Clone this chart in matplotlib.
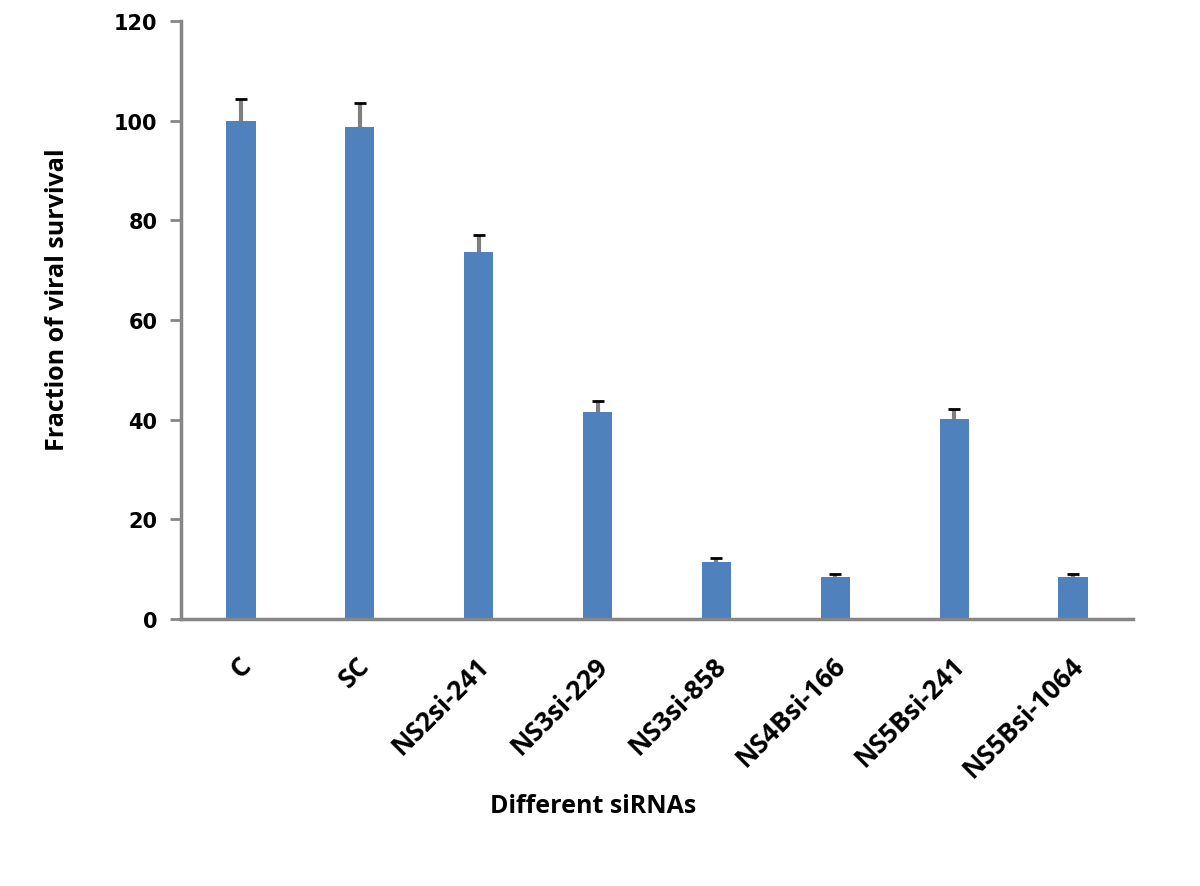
import numpy as np
import matplotlib
matplotlib.use('Agg')
import matplotlib.pyplot as plt
import matplotlib.transforms as mtransforms

labels = ['C', 'SC', 'NS2si-241', 'NS3si-229', 'NS3si-858', 'NS4Bsi-166',
          'NS5Bsi-241', 'NS5Bsi-1064']
values = [100, 98.8, 73.7, 41.6, 11.4, 8.4, 40.2, 8.4]
errors = [4.4, 4.8, 3.4, 2.2, 0.8, 0.6, 2.0, 0.6]

fig = plt.figure(figsize=(12, 8.87), dpi=100)
ax = fig.add_axes([0.151, 0.301, 0.793, 0.674])

x = np.arange(len(labels))
ax.bar(x, values, width=0.25, color='#4F81BD', zorder=2)
eb = ax.errorbar(x, values, yerr=[np.zeros(len(errors)), errors], fmt='none',
                 ecolor='#7F7F7F', elinewidth=3, capsize=4, capthick=2, zorder=3)
# only the upper cap, drawn in black
eb[1][0].set_visible(False)
eb[1][1].set_markeredgecolor('black')

ax.set_xlim(-0.5, len(labels) - 0.5)
ax.set_ylim(0, 120)
ax.set_yticks(range(0, 121, 20))
for s in ['top', 'right']:
    ax.spines[s].set_visible(False)
for s in ['left', 'bottom']:
    ax.spines[s].set_color('#868686')
    ax.spines[s].set_linewidth(2.5)
ax.tick_params(axis='y', length=8, width=2, color='#868686', pad=9,
               labelsize=15)
ax.tick_params(axis='x', length=0, pad=30)
for t in ax.get_yticklabels():
    t.set_fontfamily('DejaVu Sans')
    t.set_fontweight('bold')

ax.set_xticks(x)
ax.set_xticklabels(labels, rotation=45, ha='right', va='center',
                   rotation_mode='anchor', fontsize=19, fontweight='bold',
                   fontfamily='Open Sans')
shift = mtransforms.ScaledTranslation(6 / 100, 0, fig.dpi_scale_trans)
for t in ax.get_xticklabels():
    t.set_transform(t.get_transform() + shift)

fig.text(0.048, 0.662, 'Fraction of viral survival', rotation=90,
         ha='center', va='center', fontsize=18, fontweight='bold',
         fontfamily='Open Sans')
fig.text(0.494, 0.091, 'Different siRNAs', ha='center', va='center',
         fontsize=18, fontweight='bold', fontfamily='Open Sans')

plt.savefig('out.png', dpi=100)
plt.close()
